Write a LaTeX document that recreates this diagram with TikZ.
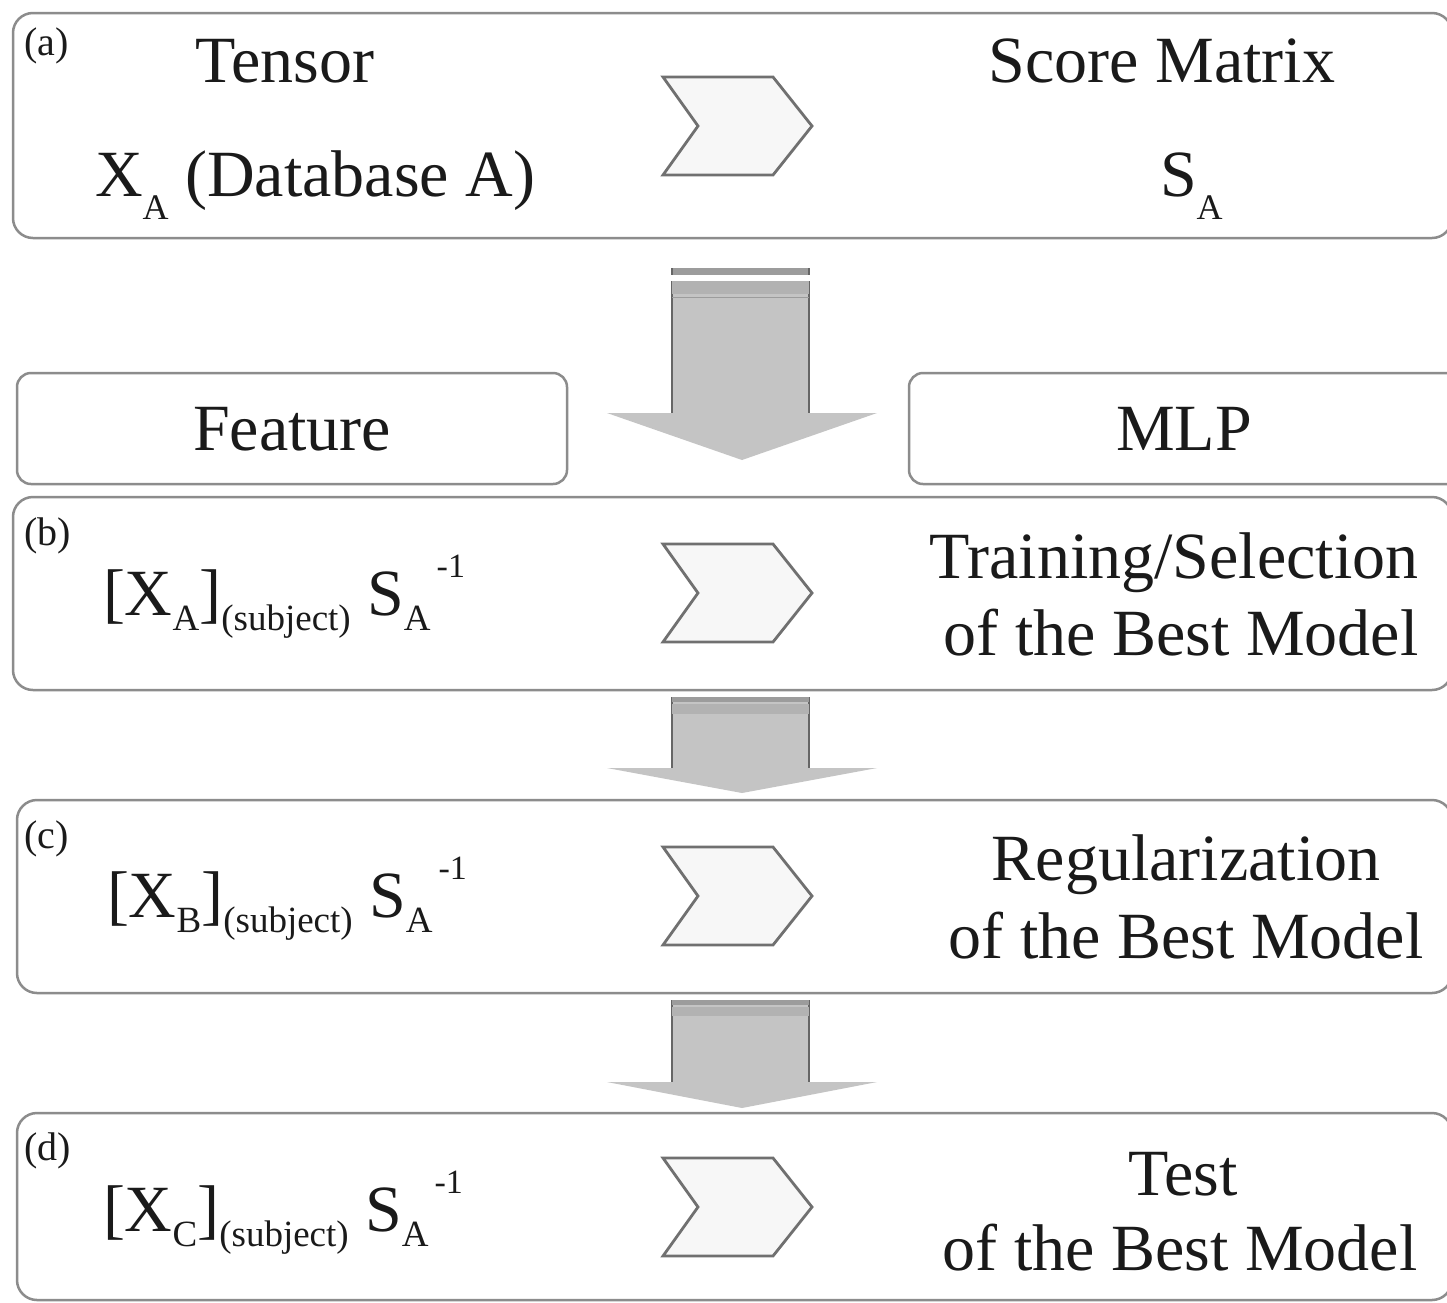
\documentclass[tikz,border=0pt]{standalone}
\usepackage{fontspec}
\setmainfont{Liberation Serif}
\newcommand\bigfont{\fontsize{66}{77}\selectfont}
\newcommand\lblfont{\fontsize{40}{40}\selectfont}
\newcommand\asub[1]{\raisebox{-23pt}{\fontsize{36}{36}\selectfont #1}}
\newcommand\fsub[1]{\raisebox{-15pt}{\fontsize{37}{37}\selectfont #1}}
\newcommand\fsup[1]{\raisebox{38pt}{\fontsize{34}{34}\selectfont #1}}
\newcommand\formula[1]{[X\fsub{#1}]\fsub{(subject)} S\fsub{A}\hspace{6pt}\fsup{-1}}
\definecolor{boxgray}{HTML}{8C8C8C}
\definecolor{chevline}{HTML}{707070}
\definecolor{chevfill}{HTML}{F7F7F7}
\definecolor{arrfill}{HTML}{C4C4C4}
\definecolor{banddark}{HTML}{9C9C9C}
\definecolor{bandmid}{HTML}{B2B2B2}
\definecolor{arredge}{HTML}{666666}
\definecolor{ink}{HTML}{1A1A1A}
\tikzset{
  panel/.style={draw=boxgray, line width=2.5pt, rounded corners=20pt, fill=white, inner sep=0pt},
  smallpanel/.style={panel, rounded corners=14pt},
  txt/.style={inner sep=0pt, outer sep=0pt, font=\bigfont, text=ink, anchor=base},
  lbl/.style={inner sep=0pt, outer sep=0pt, font=\lblfont, text=ink, anchor=base west},
  chevst/.style={draw=chevline, fill=chevfill, line width=2.8pt, line join=miter},
  pics/chev/.style={code={
    \filldraw[chevst] (0,-49) -- (110,-49) -- (149,0) -- (110,49) -- (0,49) -- (35,0) -- cycle;}},
  arredgest/.style={draw=arredge, line width=2pt}
}
\newcommand\dnarrow[3]{% #1 shaft top, #2 head y, #3 tip y
  \fill[arrfill] (672,#1) -- (809,#1) -- (809,#2) -- (877,#2) -- (742,#3) -- (607,#2) -- (672,#2) -- cycle;
  \draw[arredgest] (672,#1) -- (672,#2);
  \draw[arredgest] (809,#1) -- (809,#2);
}
\begin{document}
\begin{tikzpicture}[x=1pt, y=-1pt]
\useasboundingbox (0,0) rectangle (1447,1302);
\fill[white] (0,0) rectangle (1447,1302);

% panels
\node[panel, minimum width=1439pt, minimum height=225pt] (boxA) at (732.5,125.5) {};
\node[smallpanel, minimum width=550pt, minimum height=111pt] (boxF) at (292,428.5) {};
\node[smallpanel, minimum width=553pt, minimum height=111pt] (boxM) at (1185.5,428.5) {};
\node[panel, minimum width=1439pt, minimum height=193pt] (boxB) at (732.5,593.5) {};
\node[panel, minimum width=1435pt, minimum height=193pt] (boxC) at (734.5,896.5) {};
\node[panel, minimum width=1435pt, minimum height=187pt] (boxD) at (734.5,1206.5) {};

% chevrons
\pic (chA) at (663,126) {chev};
\pic (chB) at (663,593) {chev};
\pic (chC) at (663,896) {chev};
\pic (chD) at (663,1207) {chev};

% big down arrow
\dnarrow{268}{413}{460}
\fill[white] (670,275) rectangle (811,280.5);
\fill[banddark] (672,268) rectangle (809,275);
\fill[bandmid] (672,280.5) rectangle (809,294);
\draw[banddark, line width=1.5pt] (672,297.5) -- (809,297.5);
\draw[arredgest] (672,268) -- (672,275);
\draw[arredgest] (809,268) -- (809,275);

% small down arrows
\dnarrow{697}{768}{793}
\fill[banddark] (672,697) rectangle (809,702);
\fill[bandmid] (672,703.5) rectangle (809,714);

\dnarrow{1000}{1082}{1108}
\fill[banddark] (672,1000) rectangle (809,1005);
\fill[bandmid] (672,1006.5) rectangle (809,1016);

% labels
\node[lbl] (la) at (24,55) {(a)};
\node[lbl] (lb) at (24,545) {(b)};
\node[lbl] (lc) at (24,848) {(c)};
\node[lbl] (ld) at (24,1160) {(d)};

% panel (a)
\node[txt] (tTensor) at (285,82) {Tensor};
\node[txt, anchor=base west] (tXA) at (95,196) {X\asub{A} (Database A)};
\node[txt] (tScore) at (1162,82) {Score Matrix};
\node[txt, anchor=base west] (tSA) at (1160,196) {S\asub{A}};

% feature / MLP
\node[txt] (tFeat) at (292,450) {Feature};
\node[txt] (tMLP) at (1184,450) {MLP};

% panel (b)
\node[txt, anchor=base west] (fB) at (103,615) {\formula{A}};
\node[txt] (rB1) at (1174,578) {Training/Selection};
\node[txt] (rB2) at (1181,655) {of the Best Model};

% panel (c)
\node[txt, anchor=base west] (fC) at (107,917) {\formula{B}};
\node[txt] (rC1) at (1186,880) {Regularization};
\node[txt] (rC2) at (1186,958) {of the Best Model};

% panel (d)
\node[txt, anchor=base west] (fD) at (103,1231) {\formula{C}};
\node[txt] (rD1) at (1183,1195) {Test};
\node[txt] (rD2) at (1180,1270) {of the Best Model};
\end{tikzpicture}
\end{document}
